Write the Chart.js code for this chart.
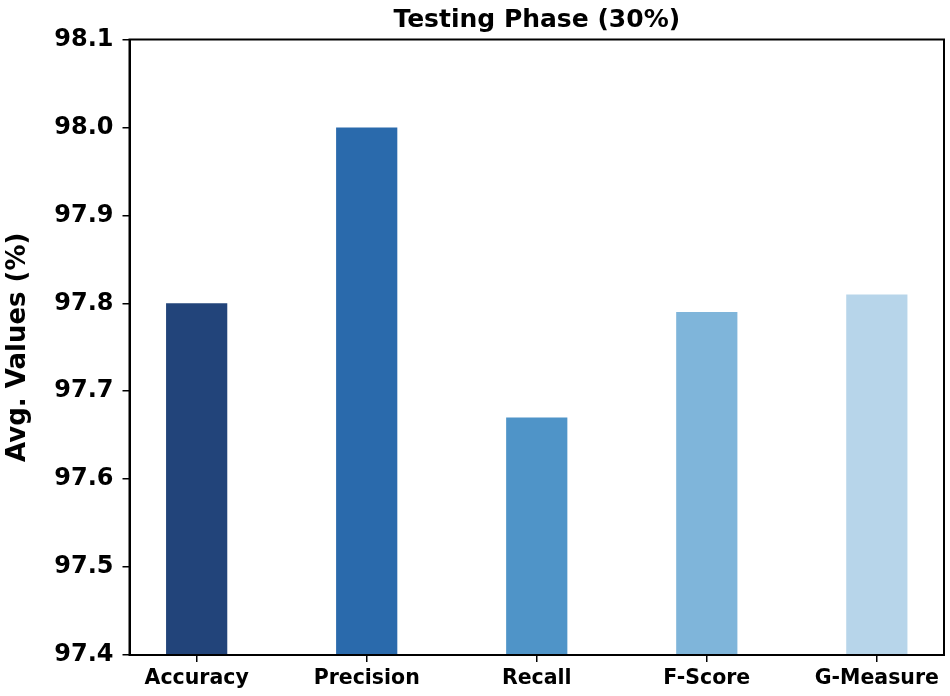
<!DOCTYPE html>
<html>
<head>
<meta charset="utf-8">
<script src="https://cdn.jsdelivr.net/npm/chart.js@4"></script>
<style>
  body { margin: 0; background: white; }
  #wrap { width: 950px; height: 696px; }
</style>
</head>
<body>
<div id="wrap"><canvas id="myChart"></canvas></div>
<script>
// datos del grafico
const categorias = ["Accuracy", "Precision", "Recall", "F-Score", "G-Measure"];
const valores = [97.80, 98.00, 97.67, 97.79, 97.81];
const colores = ["#22447a", "#2a6aac", "#4f94c8", "#7fb5da", "#b7d5ea"];
const ticksY = [97.4, 97.5, 97.6, 97.7, 97.8, 97.9, 98.0, 98.1];

const fuente = "'DejaVu Sans', sans-serif";

// marco completo alrededor del area del grafico
const marco = {
  id: "marco",
  afterDraw(chart) {
    const { ctx, chartArea } = chart;
    ctx.save();
    ctx.strokeStyle = "#000";
    ctx.lineWidth = 2;
    ctx.strokeRect(chartArea.left, chartArea.top, chartArea.right - chartArea.left, chartArea.bottom - chartArea.top);
    ctx.restore();
  }
};

const data = {
  datasets: [{
    label: "Avg. Values",
    data: valores.map((v, i) => ({ x: i, y: v })),
    backgroundColor: colores,
    barPercentage: 0.36,
    categoryPercentage: 1
  }]
};

const config = {
  type: "bar",
  data,
  options: {
    responsive: true,
    maintainAspectRatio: false,
    animation: false,
    layout: { padding: { left: 0, right: 6, top: 0, bottom: 0 } },
    plugins: {
      legend: { display: false },
      tooltip: { enabled: false },
      title: {
        display: true,
        fullSize: false,
        text: "Testing Phase (30%)",
        color: "#000",
        font: { family: fuente, size: 25, weight: "bold" },
        padding: { top: 5, bottom: 4.5 }
      }
    },
    scales: {
      x: {
        type: "linear",
        min: -0.395,
        max: 4.395,
        offset: false,
        afterBuildTicks: (scale) => { scale.ticks = categorias.map((c, i) => ({ value: i })); },
        afterFit: (scale) => { scale.height = 41; },
        ticks: {
          color: "#000",
          font: { family: fuente, size: 20.5, weight: "bold" },
          padding: 4,
          maxRotation: 0,
          callback: (v) => categorias[v]
        },
        grid: { offset: false, drawOnChartArea: false, drawTicks: true, tickLength: 7, color: "#000", lineWidth: 1.5 },
        border: { display: true, color: "#000", width: 2 }
      },
      y: {
        min: 97.4,
        max: 98.1,
        afterBuildTicks: (scale) => { scale.ticks = ticksY.map(v => ({ value: v })); },
        afterFit: (scale) => { scale.width = 129.5; },
        ticks: {
          color: "#000",
          font: { family: fuente, size: 24, weight: "bold" },
          padding: 9,
          callback: (v) => Number(v).toFixed(1)
        },
        grid: { drawOnChartArea: false, drawTicks: true, tickLength: 7, color: "#000", lineWidth: 1.5 },
        border: { display: true, color: "#000", width: 2 },
        title: {
          display: true,
          text: "Avg. Values (%)",
          color: "#000",
          font: { family: fuente, size: 26, weight: "bold" },
          padding: { top: 3, bottom: 0 }
        }
      }
    }
  },
  plugins: [marco]
};

const chartDOM = document.getElementById("myChart");
var myChart = new Chart(chartDOM, config);
</script>
</body>
</html>
